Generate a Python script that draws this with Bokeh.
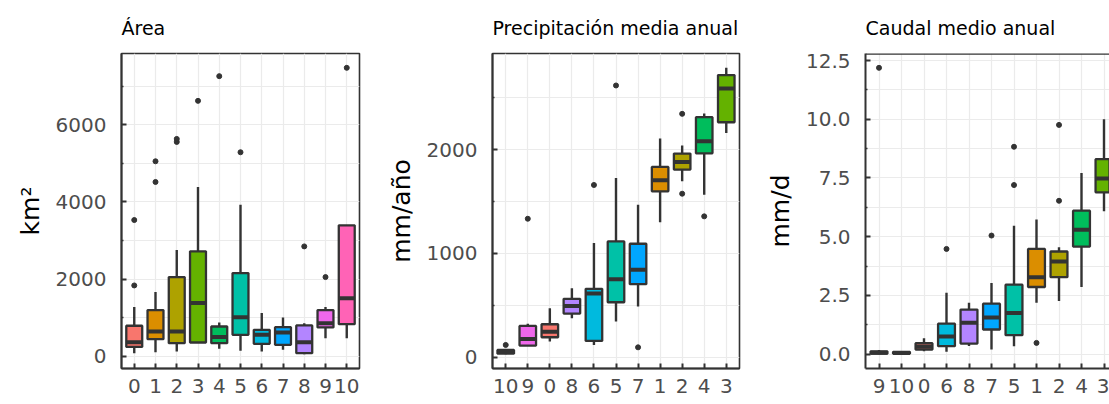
import numpy as np
from bokeh.plotting import figure
from bokeh.layouts import row
from bokeh.models import Range1d, FixedTicker, NumeralTickFormatter, Span, ColumnDataSource
from bokeh.embed import file_html
from bokeh.resources import INLINE

# ggplot hue colours per category
cat_colors = {"0": "#F8766D", "1": "#DB8E00", "2": "#AEA200", "3": "#64B200",
              "4": "#00BD5C", "5": "#00C1A7", "6": "#00BADE", "7": "#00A6FF",
              "8": "#B385FF", "9": "#EF67EB", "10": "#FF63B6"}

# ---- Panel 1: Área (km2)
area_cats = ["0", "1", "2", "3", "4", "5", "6", "7", "8", "9", "10"]
area_lo = [78, 104, 121, 355, 190, 139, 121, 164, 52, 468, 468]
area_q1 = [240, 440, 338, 355, 338, 554, 320, 294, 78, 745, 831]
area_med = [364, 640, 640, 1377, 500, 1013, 554, 615, 364, 857, 1506]
area_q3 = [790, 1195, 2052, 2719, 770, 2156, 684, 753, 797, 1195, 3394]
area_hi = [1273, 1662, 2753, 4390, 874, 3931, 1117, 1004, 857, 1273, 3394]
area_out_cat = ["0", "0", "1", "1", "2", "2", "3", "4", "5", "8", "9", "10"]
area_out_val = [1835, 3532, 4519, 5056, 5558, 5636, 6623, 7264, 5290, 2848, 2052, 7480]

# ---- Panel 2: Precipitación media anual (mm/año)
prec_cats = ["10", "9", "0", "8", "6", "5", "7", "1", "2", "4", "3"]
prec_lo = [30, 113, 151, 376, 119, 344, 489, 1299, 1694, 1566, 2160]
prec_q1 = [35, 113, 193, 421, 158, 530, 704, 1598, 1807, 1964, 2263]
prec_med = [50, 175, 245, 495, 614, 752, 842, 1704, 1881, 2080, 2588]
prec_q3 = [71, 302, 318, 563, 659, 1116, 1093, 1833, 1961, 2312, 2717]
prec_hi = [80, 322, 473, 665, 1100, 1726, 1469, 2106, 2038, 2347, 2787]
prec_out_cat = ["10", "9", "6", "5", "7", "2", "2", "4"]
prec_out_val = [119, 1334, 1659, 2617, 96, 2344, 1575, 1357]

# ---- Panel 3: Caudal medio anual (mm/d)
caud_cats = ["9", "10", "0", "6", "8", "7", "5", "1", "2", "4", "3"]
caud_lo = [0.0, 0.0, 0.12, 0.10, 0.35, 0.20, 0.34, 2.19, 2.26, 2.86, 6.08]
caud_q1 = [0.02, 0.02, 0.20, 0.34, 0.45, 1.05, 0.81, 2.86, 3.28, 4.58, 6.89]
caud_med = [0.06, 0.05, 0.33, 0.75, 1.34, 1.56, 1.75, 3.28, 3.95, 5.30, 7.48]
caud_q3 = [0.12, 0.10, 0.47, 1.30, 1.90, 2.15, 2.96, 4.48, 4.37, 6.11, 8.30]
caud_hi = [0.18, 0.14, 0.68, 2.62, 2.19, 3.03, 5.47, 5.73, 4.55, 7.71, 10.0]
caud_out_cat = ["9", "6", "7", "5", "5", "1", "2", "2"]
caud_out_val = [12.19, 4.48, 5.05, 7.20, 8.83, 0.48, 9.76, 6.53]

FONT = "DejaVu Sans"
DARK = "#333333"
GRID = "#EBEBEB"


def make_panel(title, ylabel, cats, lo, q1, med, q3, hi, out_cat, out_val,
               yticks, yminor, fmt, frame_w, visible_units, left_b, right_b, outline=True):
    n = len(cats)
    pos = np.arange(n, dtype=float)
    vals = list(lo) + list(hi) + list(out_val)
    vmin, vmax = min(vals), max(vals)
    pad = 0.05 * (vmax - vmin)
    x_start = -0.6
    x_end = x_start + visible_units

    p = figure(frame_width=frame_w, frame_height=315,
               min_border_left=left_b, min_border_right=right_b,
               min_border_top=53, min_border_bottom=36,
               x_range=Range1d(x_start, x_end), y_range=Range1d(vmin - pad, vmax + pad),
               output_backend="svg", toolbar_location=None, title=title)
    p.background_fill_color = "white"
    p.border_fill_color = "white"
    if outline:
        p.outline_line_color = DARK
        p.outline_line_width = 1.6
    else:
        p.outline_line_color = None

    p.title.text_font = FONT
    p.title.text_font_size = "19px"
    p.title.text_font_style = "normal"
    p.title.text_color = "black"
    p.title.align = "left"
    p.title.vertical_align = "top"
    p.title.standoff = 25

    xt = FixedTicker(ticks=list(range(n)))
    yt = FixedTicker(ticks=yticks, minor_ticks=yminor)
    p.xaxis.ticker = xt
    p.xgrid.ticker = xt
    p.yaxis.ticker = yt
    p.ygrid.ticker = yt
    p.xaxis.major_label_overrides = {i: c for i, c in enumerate(cats)}
    p.yaxis.formatter = NumeralTickFormatter(format=fmt)

    for g in (p.xgrid, p.ygrid):
        g.grid_line_color = GRID
        g.grid_line_width = 1.2
    p.ygrid.minor_grid_line_color = GRID
    p.ygrid.minor_grid_line_width = 1.0

    for ax in (p.xaxis, p.yaxis):
        ax.axis_line_color = DARK
        ax.axis_line_width = 2
        ax.major_tick_line_color = DARK
        ax.major_tick_line_width = 2
        ax.major_tick_in = 5
        ax.major_tick_out = 0
        ax.minor_tick_line_color = DARK
        ax.minor_tick_line_width = 1.5
        ax.minor_tick_in = 2
        ax.minor_tick_out = 0
        ax.major_label_text_font = FONT
        ax.major_label_text_font_size = "20px"
        ax.major_label_text_color = "#4D4D4D"
    p.xaxis.major_label_standoff = 10
    p.yaxis.major_label_standoff = 15
    p.yaxis.axis_label = ylabel
    p.yaxis.axis_label_text_font = FONT
    p.yaxis.axis_label_text_font_size = "25px"
    p.yaxis.axis_label_text_font_style = "normal"
    p.yaxis.axis_label_text_color = "black"
    p.yaxis.axis_label_standoff = 8

    src = ColumnDataSource(dict(x=pos, x0=pos - 0.375, x1=pos + 0.375,
                                lo=lo, q1=q1, med=med, q3=q3, hi=hi,
                                color=[cat_colors[c] for c in cats]))
    p.segment(x0="x", y0="q3", x1="x", y1="hi", source=src, line_color=DARK, line_width=2.4)
    p.segment(x0="x", y0="lo", x1="x", y1="q1", source=src, line_color=DARK, line_width=2.4)
    p.vbar(x="x", width=0.75, bottom="q1", top="q3", source=src,
           fill_color="color", line_color=DARK, line_width=2.3)
    p.segment(x0="x0", y0="med", x1="x1", y1="med", source=src, line_color=DARK, line_width=4)
    ox = [cats.index(c) for c in out_cat]
    p.scatter(ox, out_val, size=5, color=DARK)

    if not outline:
        p.add_layout(Span(location=vmax + pad, dimension="width",
                          line_color=DARK, line_width=2.5))
    return p


p1 = make_panel("Área", "km²", area_cats, area_lo, area_q1, area_med, area_q3, area_hi,
                area_out_cat, area_out_val, [0, 2000, 4000, 6000], [1000, 3000, 5000, 7000],
                "0", 238, 11.2, 121, 20)
p2 = make_panel("Precipitación media anual", "mm/año", prec_cats, prec_lo, prec_q1, prec_med,
                prec_q3, prec_hi, prec_out_cat, prec_out_val, [0, 1000, 2000], [500, 1500, 2500],
                "0", 247, 11.2, 113, 14)
p3 = make_panel("Caudal medio anual", "mm/d", caud_cats, caud_lo, caud_q1, caud_med, caud_q3,
                caud_hi, caud_out_cat, caud_out_val, [0, 2.5, 5, 7.5, 10, 12.5],
                [1.25, 3.75, 6.25, 8.75, 11.25], "0.0", 244, 244 / 22.5, 112, 0, outline=False)

layout = row(p1, p2, p3, spacing=0)
open("out.html", "w").write(file_html(layout, INLINE))
